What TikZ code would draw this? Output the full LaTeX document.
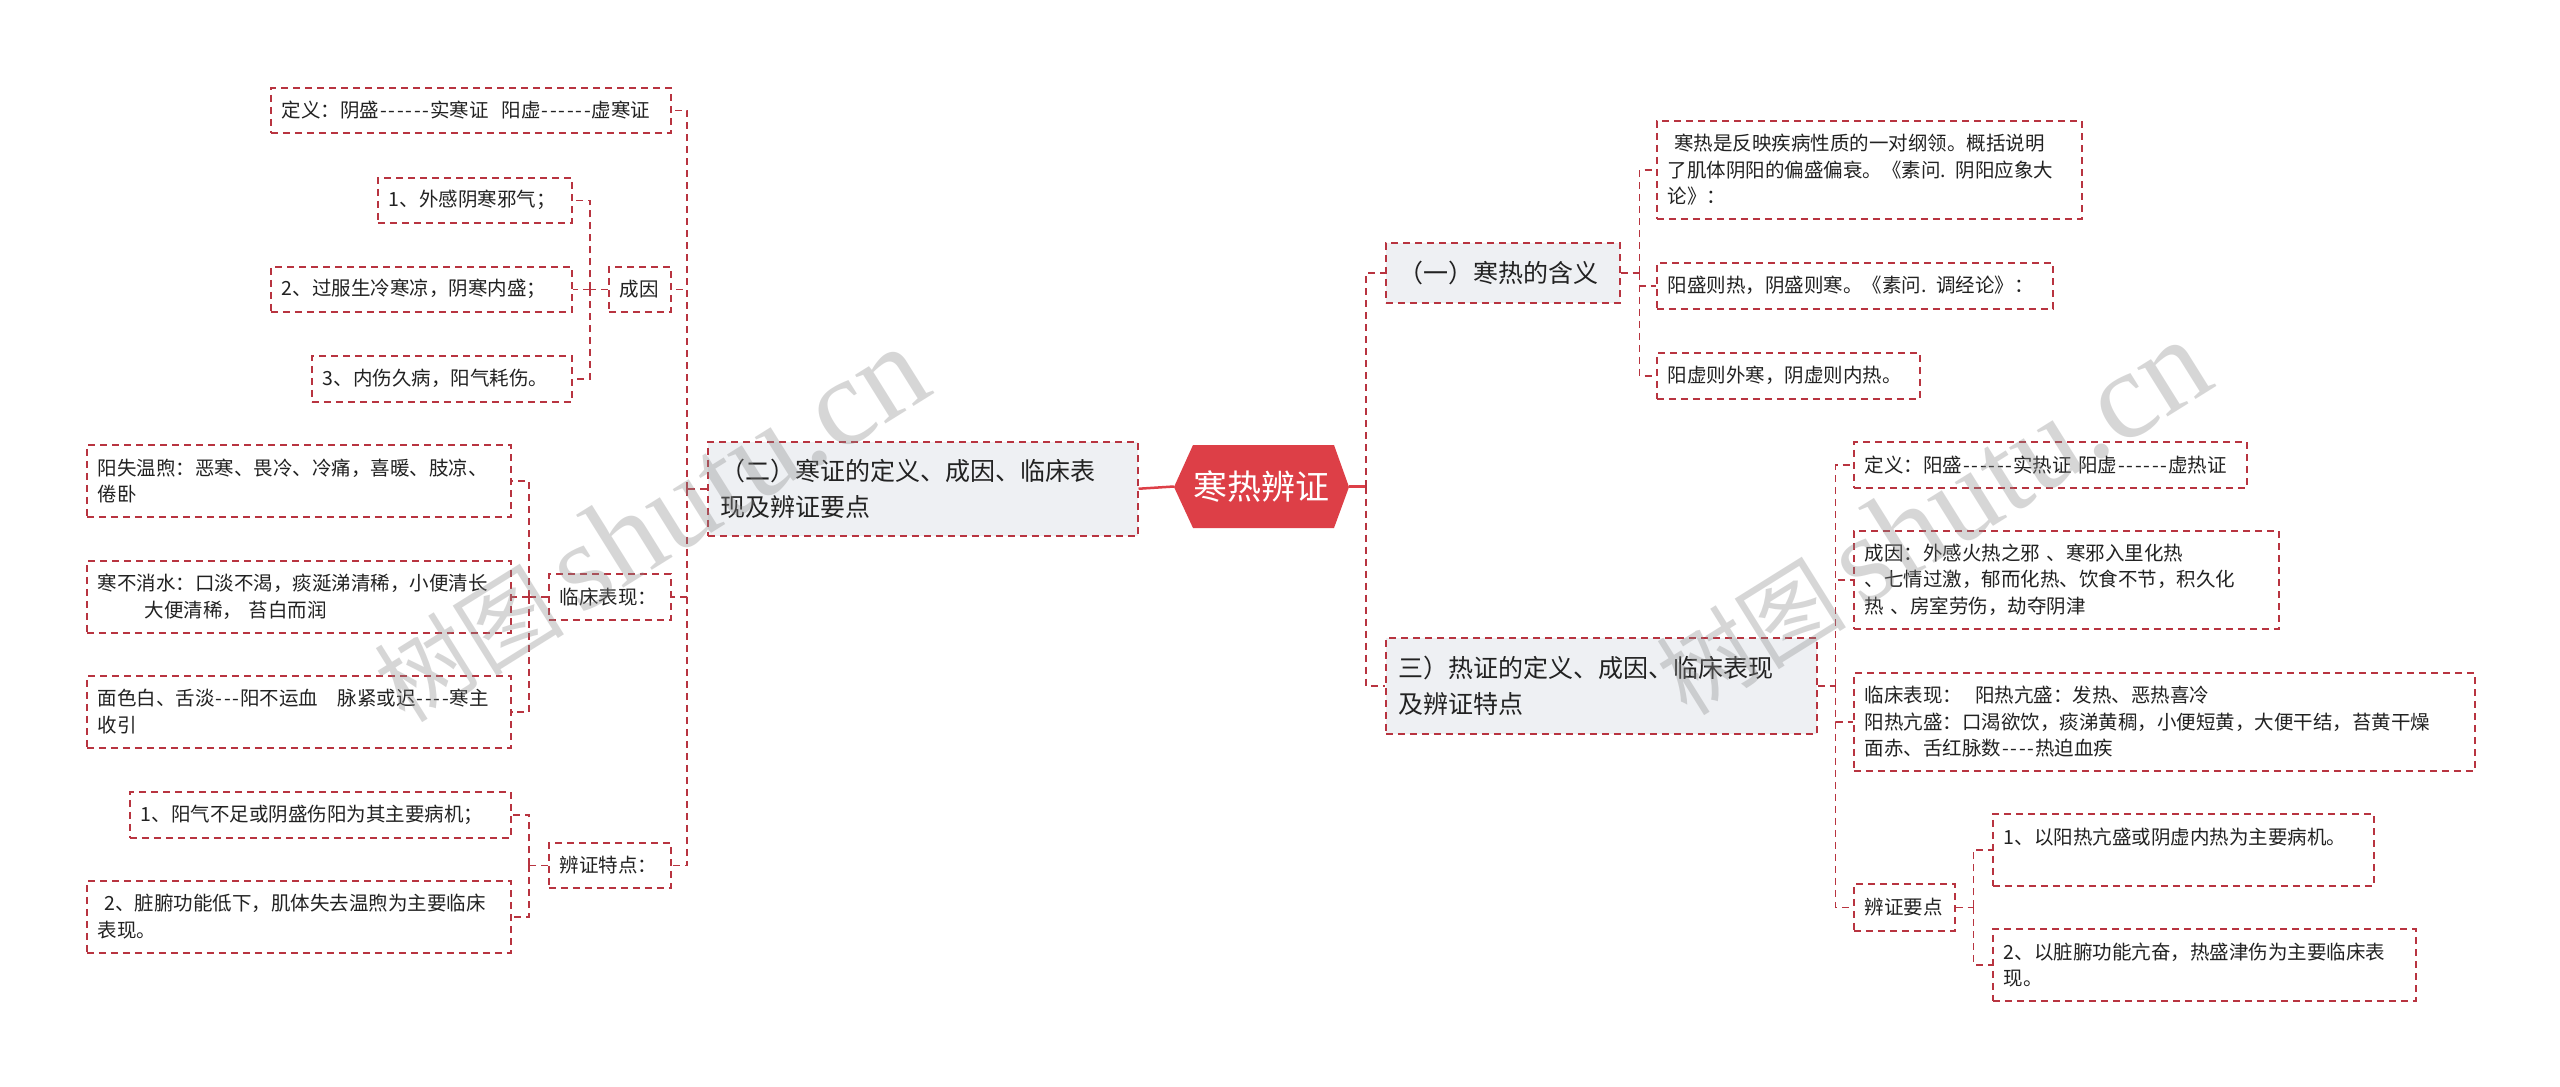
\documentclass[tikz,border=0pt]{standalone}
\usepackage{fontspec}
\setmainfont{Noto Sans CJK SC}
\newfontfamily\wmlatin{Liberation Serif}
\usetikzlibrary{calc}
\definecolor{lc}{HTML}{B83440}
\definecolor{midfill}{HTML}{EEF0F3}
\definecolor{rootc}{HTML}{DD3F47}
\definecolor{txt}{HTML}{222222}
\newcommand\hy{\makebox[8.5pt]{-}}
\newcommand\hysix{\hy\hy\hy\hy\hy\hy}
\newcommand\leafbox[6]{%
  \pgfmathsetmacro\myBW{#4-#2}\pgfmathsetmacro\myBH{#5-#3}\pgfmathsetmacro\myTW{#4-#2-22}%
  \node[leaf, minimum width=\myBW pt, minimum height=\myBH pt, text width=\myTW pt] (#1) at (#2,#3) {#6};}
\newcommand\midbox[6]{%
  \pgfmathsetmacro\myBW{#4-#2}\pgfmathsetmacro\myBH{#5-#3}\pgfmathsetmacro\myTW{#4-#2-26}%
  \node[midb, minimum width=\myBW pt, minimum height=\myBH pt, text width=\myTW pt] (#1) at (#2,#3) {#6};}
\begin{document}
\begin{tikzpicture}[x=1pt,y=-1pt,
  leaf/.style={draw=lc, line width=1.5pt, dash pattern=on 7pt off 5pt, inner xsep=11pt, inner ysep=0pt,
    anchor=north west, align=left, text=txt, font=\fontsize{19.5}{26.5}\selectfont},
  midb/.style={leaf, fill=midfill, inner xsep=13pt, font=\fontsize{25}{35.5}\selectfont},
  conn/.style={draw=lc, line width=1.5pt, dash pattern=on 7pt off 5pt},
  rootline/.style={draw=rootc, line width=2.5pt},
  wm/.style={rotate=32, text=black!45, opacity=0.35}]
\useasboundingbox (0,0) rectangle (2560,1087);
\fill[white] (0,0) rectangle (2560,1087);

% root
\fill[rootc] (1174,487) -- (1193,445) -- (1334,445) -- (1349,487) -- (1334,528) -- (1193,528) -- cycle;
\node[minimum width=175pt, minimum height=83pt, inner sep=0pt, text=white, font=\fontsize{34}{40}\selectfont] (root) at (1261.5,486.5) {寒热辨证};

% mid level
\midbox{two}{707}{441}{1137}{535}{（二）寒证的定义、成因、临床表\\现及辨证要点}
\midbox{one}{1385}{242}{1619}{302}{（一）寒热的含义}
\midbox{three}{1385}{637}{1816}{733}{三）热证的定义、成因、临床表现\\及辨证特点}

% left leaves
\leafbox{ldef}{270}{87}{670}{132}{定义：阴盛\hysix 实寒证\ \ 阳虚\hysix 虚寒证}
\leafbox{c1}{377}{177}{571}{222}{1、外感阴寒邪气；}
\leafbox{c2}{270}{266}{571}{311}{2、过服生冷寒凉，阴寒内盛；}
\leafbox{c3}{311}{355}{571}{401}{3、内伤久病，阳气耗伤。}
\leafbox{cy}{608}{266}{670}{311}{成因}
\leafbox{k1}{86}{444}{510}{516}{阳失温煦：恶寒、畏冷、冷痛，喜暖、肢凉、\\倦卧}
\leafbox{k2}{86}{560}{510}{632}{寒不消水：口淡不渴，痰涎涕清稀，小便清长\\\hspace*{2.4em}大便清稀，\ 苔白而润}
\leafbox{k3}{86}{675}{510}{747}{面色白、舌淡\hy\hy\hy 阳不运血\ \ \ 脉紧或迟\hy\hy\hy\hy 寒主\\收引}
\leafbox{lcb}{548}{573}{670}{619}{临床表现：}
\leafbox{b1}{129}{791}{510}{837}{1、阳气不足或阴盛伤阳为其主要病机；}
\leafbox{b2}{86}{880}{510}{952}{\ 2、脏腑功能低下，肌体失去温煦为主要临床\\表现。}
\leafbox{bz}{548}{842}{670}{887}{辨证特点：}

% right leaves
\leafbox{r1}{1656}{120}{2081}{218}{\ 寒热是反映疾病性质的一对纲领。概括说明\\了肌体阴阳的偏盛偏衰。《素问. 阴阳应象大\\论》：}
\leafbox{r2}{1656}{262}{2052}{308}{阳盛则热，阴盛则寒。《素问. 调经论》：}
\leafbox{r3}{1656}{352}{1919}{398}{阳虚则外寒，阴虚则内热。}
\leafbox{s1}{1853}{441}{2246}{487}{定义：阳盛\hysix 实热证 阳虚\hysix 虚热证}
\leafbox{s2}{1853}{530}{2278}{628}{成因：外感火热之邪 、寒邪入里化热\\、七情过激，郁而化热、饮食不节，积久化\\热 、房室劳伤，劫夺阴津}
\leafbox{s3}{1853}{672}{2474}{770}{临床表现：\ \ 阳热亢盛：发热、恶热喜冷\\阳热亢盛：口渴欲饮，痰涕黄稠，小便短黄，大便干结，苔黄干燥\\面赤、舌红脉数\hy\hy\hy\hy 热迫血疾}
\leafbox{s4}{1853}{883}{1954}{930}{辨证要点}
\leafbox{t1}{1992}{813}{2373}{885}{1、以阳热亢盛或阴虚内热为主要病机。\\\mbox{}}
\leafbox{t2}{1992}{928}{2415}{1000}{2、以脏腑功能亢奋，热盛津伤为主要临床表\\现。}

% connectors: root
\draw[rootline] (root.west) -- (two.east);
\coordinate (rt) at ($(root.east)+(17,0)$);
\draw[rootline] (root.east) -- (rt);
\draw[conn] (rt) |- (one.west);
\draw[conn] (rt) |- (three.west);

% left trunk
\coordinate (lt) at ($(two.west)+(-20,0)$);
\draw[conn] (two.west) -- (lt);
\foreach \c in {ldef,cy,lcb,bz} \draw[conn] (lt) |- (\c.east);
\coordinate (cyt) at ($(cy.west)+(-18,0)$);
\draw[conn] (cy.west) -- (cyt);
\foreach \c in {c1,c2,c3} \draw[conn] (cyt) |- (\c.east);
\coordinate (lct) at ($(lcb.west)+(-19,0)$);
\draw[conn] (lcb.west) -- (lct);
\foreach \c in {k1,k2,k3} \draw[conn] (lct) |- (\c.east);
\coordinate (bzt) at ($(bz.west)+(-19,0)$);
\draw[conn] (bz.west) -- (bzt);
\foreach \c in {b1,b2} \draw[conn] (bzt) |- (\c.east);

% right side
\coordinate (ot) at ($(one.east)+(19,0)$);
\draw[conn] (one.east) -- (ot);
\foreach \c in {r1,r2,r3} \draw[conn] (ot) |- (\c.west);
\coordinate (tt) at ($(three.east)+(18,0)$);
\draw[conn] (three.east) -- (tt);
\foreach \c in {s1,s2,s3,s4} \draw[conn] (tt) |- (\c.west);
\coordinate (st) at ($(s4.east)+(18,0)$);
\draw[conn] (s4.east) -- (st);
\foreach \c in {t1,t2} \draw[conn] (st) |- (\c.west);

% watermarks
\node[wm] (wm1) at (650,525) {\fontsize{95}{100}\selectfont 树图\,{\wmlatin\fontsize{125}{130}\selectfont shutu.cn}};
\node[wm] (wm2) at (1932,518) {\fontsize{95}{100}\selectfont 树图\,{\wmlatin\fontsize{125}{130}\selectfont shutu.cn}};
\end{tikzpicture}
\end{document}
